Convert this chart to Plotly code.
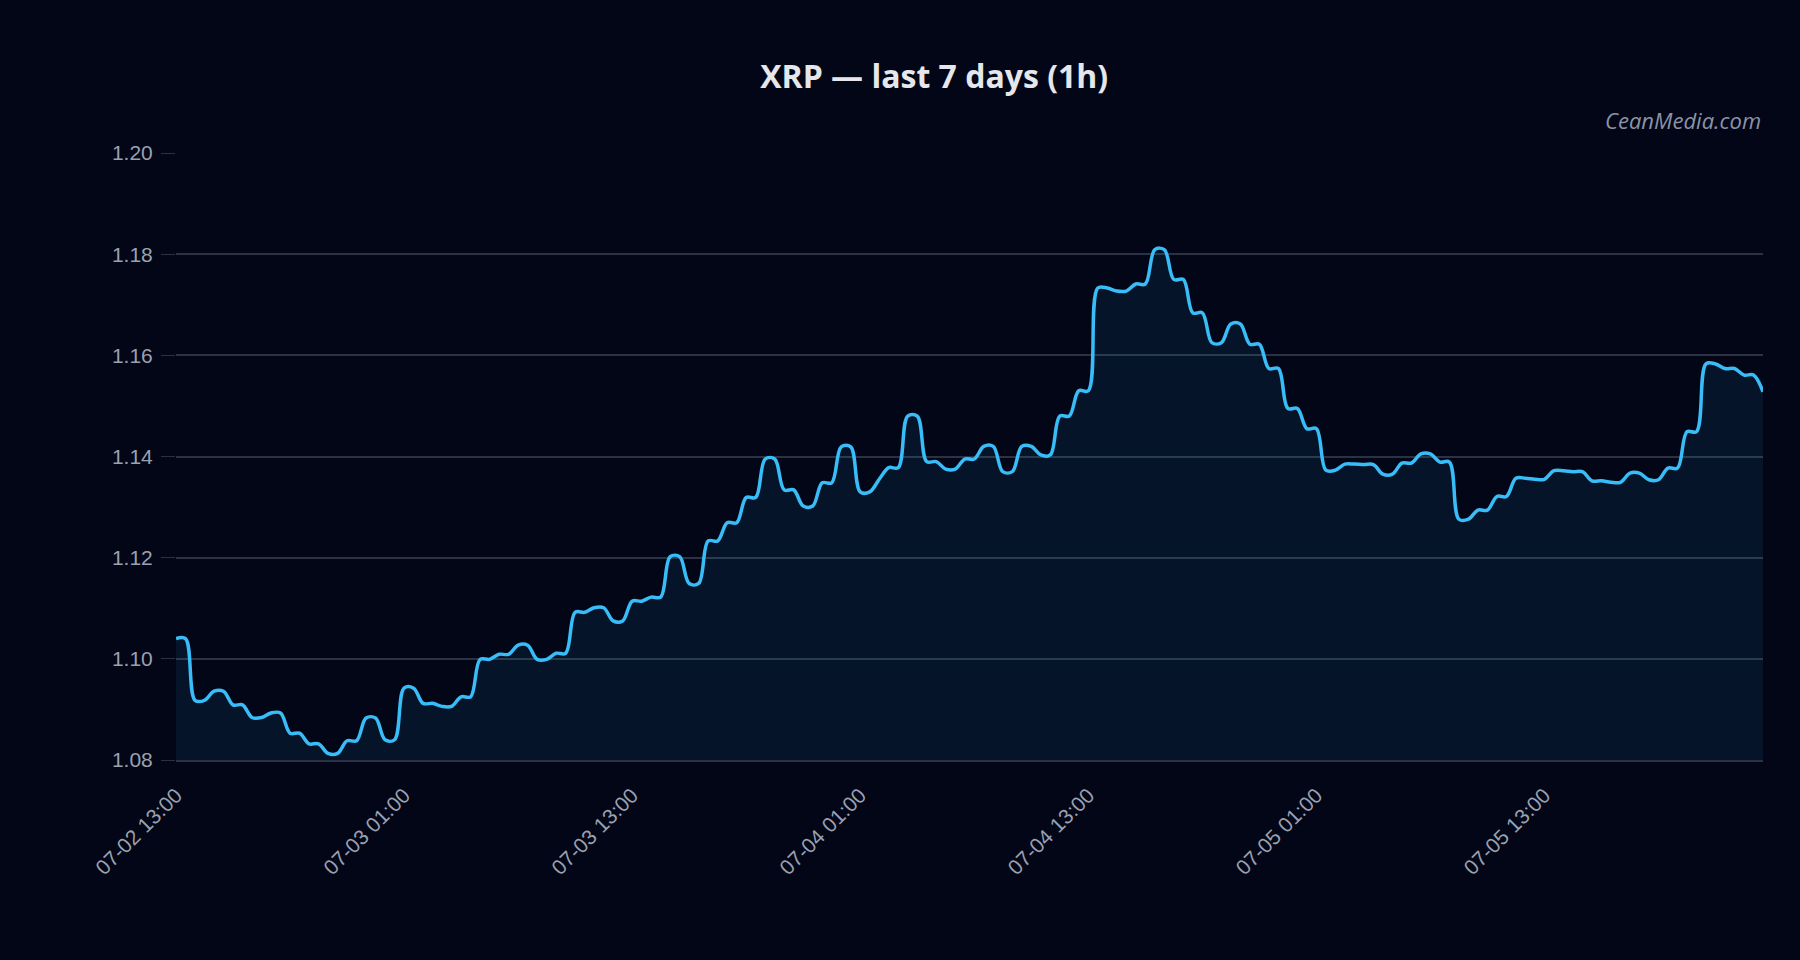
import pandas as pd
import plotly.graph_objects as go

# ---- data (half-hourly samples) ----
start_time = "2025-07-02 13:00"
step = "30min"

# first stretch: one value per hour, held for both half-hour samples
hourly_a = [1.1040, 1.0918, 1.0936, 1.0909, 1.0884, 1.0893, 1.0853, 1.0832,
            1.0813, 1.0838, 1.0883, 1.0840, 1.0942, 1.0912, 1.0906, 1.0925,
            1.0999, 1.1009, 1.1027, 1.0999, 1.1011, 1.1092, 1.1101, 1.1075,
            1.1114, 1.1122, 1.1202, 1.1149, 1.1233, 1.1269, 1.1319, 1.1395,
            1.1334, 1.1302, 1.1348, 1.1419, 1.1330]
mid_value = [1.1355]
# second stretch: values held across (hh:30, hh+1:00)
hourly_b = [1.1378, 1.1480, 1.1390, 1.1375, 1.1395, 1.1420, 1.1370, 1.1420,
            1.1403, 1.1480, 1.1530, 1.1733, 1.1727, 1.1741, 1.1809, 1.1750,
            1.1684, 1.1625, 1.1662, 1.1622, 1.1574, 1.1495, 1.1455, 1.1373,
            1.1385, 1.1384, 1.1365, 1.1387, 1.1405, 1.1389, 1.1276, 1.1294,
            1.1321, 1.1357, 1.1355, 1.1372, 1.1370, 1.1352, 1.1349, 1.1367,
            1.1354, 1.1377, 1.1449, 1.1583, 1.1574, 1.1561]
last_value = [1.1528]

y_ticks = [1.08, 1.10, 1.12, 1.14, 1.16, 1.18, 1.20]

prices = ([v for v in hourly_a for _ in (0, 1)] + mid_value +
          [v for v in hourly_b for _ in (0, 1)] + last_value)
times = pd.date_range(start_time, periods=len(prices), freq=step)

BG = "#020617"
GRID = "#2a3243"
TICK = "#9aa1b0"

fig = go.Figure()
fig.add_trace(go.Scatter(
    x=times, y=prices, mode="lines",
    line=dict(color="#38bdf8", width=3.5, shape="spline", smoothing=1),
    fill="tozeroy", fillcolor="rgba(56,189,248,0.08)",
    hoverinfo="x+y", showlegend=False,
))

fig.update_layout(
    width=1800, height=960,
    paper_bgcolor=BG, plot_bgcolor=BG,
    margin=dict(l=176, r=37, t=153, b=200, autoexpand=False),
    title=dict(text="<b>XRP — last 7 days (1h)</b>", x=0.519, xref="container",
               xanchor="center", y=1 - 77 / 960, yanchor="middle",
               font=dict(family="Open Sans", size=32, color="#e5e7eb")),
    font=dict(family="Liberation Sans, Arial", size=21, color=TICK),
    xaxis=dict(
        type="date", range=[times[0], times[-1]],
        tick0=start_time, dtick=12 * 3600 * 1000, tickformat="%m-%d %H:%M",
        tickangle=-45, showgrid=False, zeroline=False,
        showline=True, linecolor=GRID, linewidth=1.5,
        ticks="outside", ticklen=13, tickcolor=BG,
        tickfont=dict(family="Liberation Sans, Arial", size=21, color=TICK),
    ),
    yaxis=dict(
        range=[y_ticks[0], y_ticks[-1]], tickvals=y_ticks, tickformat=".2f",
        showgrid=True, gridcolor=GRID, gridwidth=1.5, zeroline=False, showline=False,
        ticks="outside", ticklen=14, tickcolor=GRID, ticklabelstandoff=4,
        tickfont=dict(family="Liberation Sans, Arial", size=21, color=TICK),
    ),
    annotations=[dict(
        text="<i>CeanMedia.com</i>", xref="paper", yref="paper",
        x=1, y=1 + (152.7 - 120) / 607, xanchor="right", yanchor="middle",
        showarrow=False, font=dict(family="Open Sans", size=22, color="#8b93a5"),
    )],
)

fig.write_html("out.html")
